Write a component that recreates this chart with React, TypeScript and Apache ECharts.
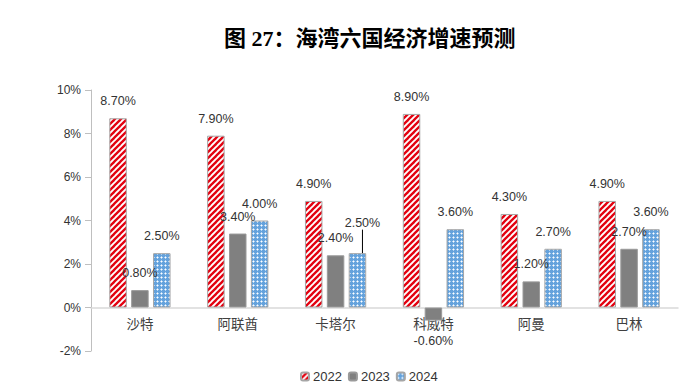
import React, { useEffect, useRef } from "react";
import * as echarts from "echarts";

const categories = ["沙特", "阿联酋", "卡塔尔", "科威特", "阿曼", "巴林"];
const seriesNames = ["2022", "2023", "2024"];
const values2022 = [8.7, 7.9, 4.9, 8.9, 4.3, 4.9];
const values2023 = [0.8, 3.4, 2.4, -0.6, 1.2, 2.7];
const values2024 = [2.5, 4.0, 2.5, 3.6, 2.7, 3.6];
const titleText = "图 27：海湾六国经济增速预测";

function stripeTile(): HTMLCanvasElement {
  const c = document.createElement("canvas");
  c.width = 6;
  c.height = 6;
  const ctx = c.getContext("2d")!;
  ctx.fillStyle = "#ffffff";
  ctx.fillRect(0, 0, 6, 6);
  ctx.strokeStyle = "#e3000f";
  ctx.lineWidth = 2.3;
  for (const k of [0, 6, 12]) {
    ctx.beginPath();
    ctx.moveTo(k - 8, 8);
    ctx.lineTo(k + 2, -2);
    ctx.stroke();
  }
  return c;
}

function dotTile(): HTMLCanvasElement {
  const c = document.createElement("canvas");
  c.width = 4;
  c.height = 4;
  const ctx = c.getContext("2d")!;
  ctx.fillStyle = "#64a2dc";
  ctx.fillRect(0, 0, 4, 4);
  ctx.fillStyle = "#b6d5f2";
  ctx.fillRect(0, 1, 1, 1);
  ctx.fillRect(2, 1, 1, 1);
  ctx.fillRect(1, 0, 1, 1);
  ctx.fillRect(1, 2, 1, 1);
  ctx.fillStyle = "#ffffff";
  ctx.fillRect(1, 1, 1, 1);
  return c;
}

export default function App() {
  const ref = useRef<HTMLDivElement>(null);
  useEffect(() => {
    document.body.style.margin = "0";
    const chart = echarts.init(ref.current!, undefined, { renderer: "svg" });
    const labelFont = {
      fontFamily: "'Liberation Sans', Arial, sans-serif",
      fontSize: 12.5,
      color: "#333333",
    };
    const fmt = (p: any) => Number(p.value).toFixed(2) + "%";
    const mkLabel = () => ({
      show: true,
      position: "top" as const,
      distance: 10.5,
      formatter: fmt,
      ...labelFont,
    });
    chart.setOption({
      animation: false,
      title: {
        text: titleText,
        left: 219,
        top: 22,
        textStyle: {
          fontFamily: "'Liberation Serif', 'Noto Sans CJK SC', serif",
          fontWeight: "bold",
          fontSize: 22,
          color: "#000000",
        },
      },
      legend: {
        left: 295,
        top: 365,
        itemWidth: 8,
        itemHeight: 8,
        itemGap: 6,
        textStyle: {
          fontFamily: "'Liberation Sans', Arial, sans-serif",
          fontSize: 13,
          color: "#333333",
          padding: [0, 0, 0, -1],
        },
        data: seriesNames,
      },
      grid: { left: 91, right: 9, top: 90, bottom: 34 },
      xAxis: {
        type: "category",
        data: categories,
        axisLine: { onZero: true, lineStyle: { color: "#d9d9d9", width: 1.5 } },
        axisTick: { show: false },
        axisLabel: {
          margin: -35,
          fontFamily: "'Noto Sans CJK SC', sans-serif",
          fontSize: 13.5,
          color: "#404040",
        },
      },
      yAxis: {
        type: "value",
        min: -2,
        max: 10,
        interval: 2,
        splitLine: { show: false },
        axisLine: { show: true, lineStyle: { color: "#bfbfbf" } },
        axisTick: { show: true, length: 6, lineStyle: { color: "#bfbfbf" } },
        axisLabel: {
          margin: 10,
          formatter: "{value}%",
          fontFamily: "'Liberation Sans', Arial, sans-serif",
          fontSize: 12,
          color: "#333333",
        },
      },
      series: [
        {
          name: seriesNames[0],
          type: "bar",
          barWidth: 17.5,
          barGap: "25%",
          data: values2022,
          itemStyle: {
            color: { image: stripeTile(), repeat: "repeat" },
            borderColor: "#a6a6a6",
            borderWidth: 1,
          },
          label: mkLabel(),
        },
        {
          name: seriesNames[1],
          type: "bar",
          barWidth: 17.5,
          barGap: "25%",
          data: values2023.map((v) =>
            v < 0
              ? { value: v, label: { position: "bottom", distance: 13.5 } }
              : v
          ),
          itemStyle: {
            color: "#808080",
            borderColor: "#9a9a9a",
            borderWidth: 1,
          },
          label: mkLabel(),
        },
        {
          name: seriesNames[2],
          type: "bar",
          barWidth: 17.5,
          barGap: "25%",
          data: values2024.map((v, i) =>
            i === 2 ? { value: v, labelLine: { show: true } } : v
          ),
          itemStyle: {
            color: { image: dotTile(), repeat: "repeat" },
            borderColor: "#a6a6a6",
            borderWidth: 1,
          },
          label: mkLabel(),
          labelLine: { show: false, lineStyle: { color: "#000000", width: 1 } },
          labelLayout: (params: any) =>
            params.dataIndex === 2 ? { dx: 5, dy: -13 } : {},
        },
      ],
    });
    return () => chart.dispose();
  }, []);
  return <div ref={ref} style={{ width: 687, height: 385 }} />;
}
